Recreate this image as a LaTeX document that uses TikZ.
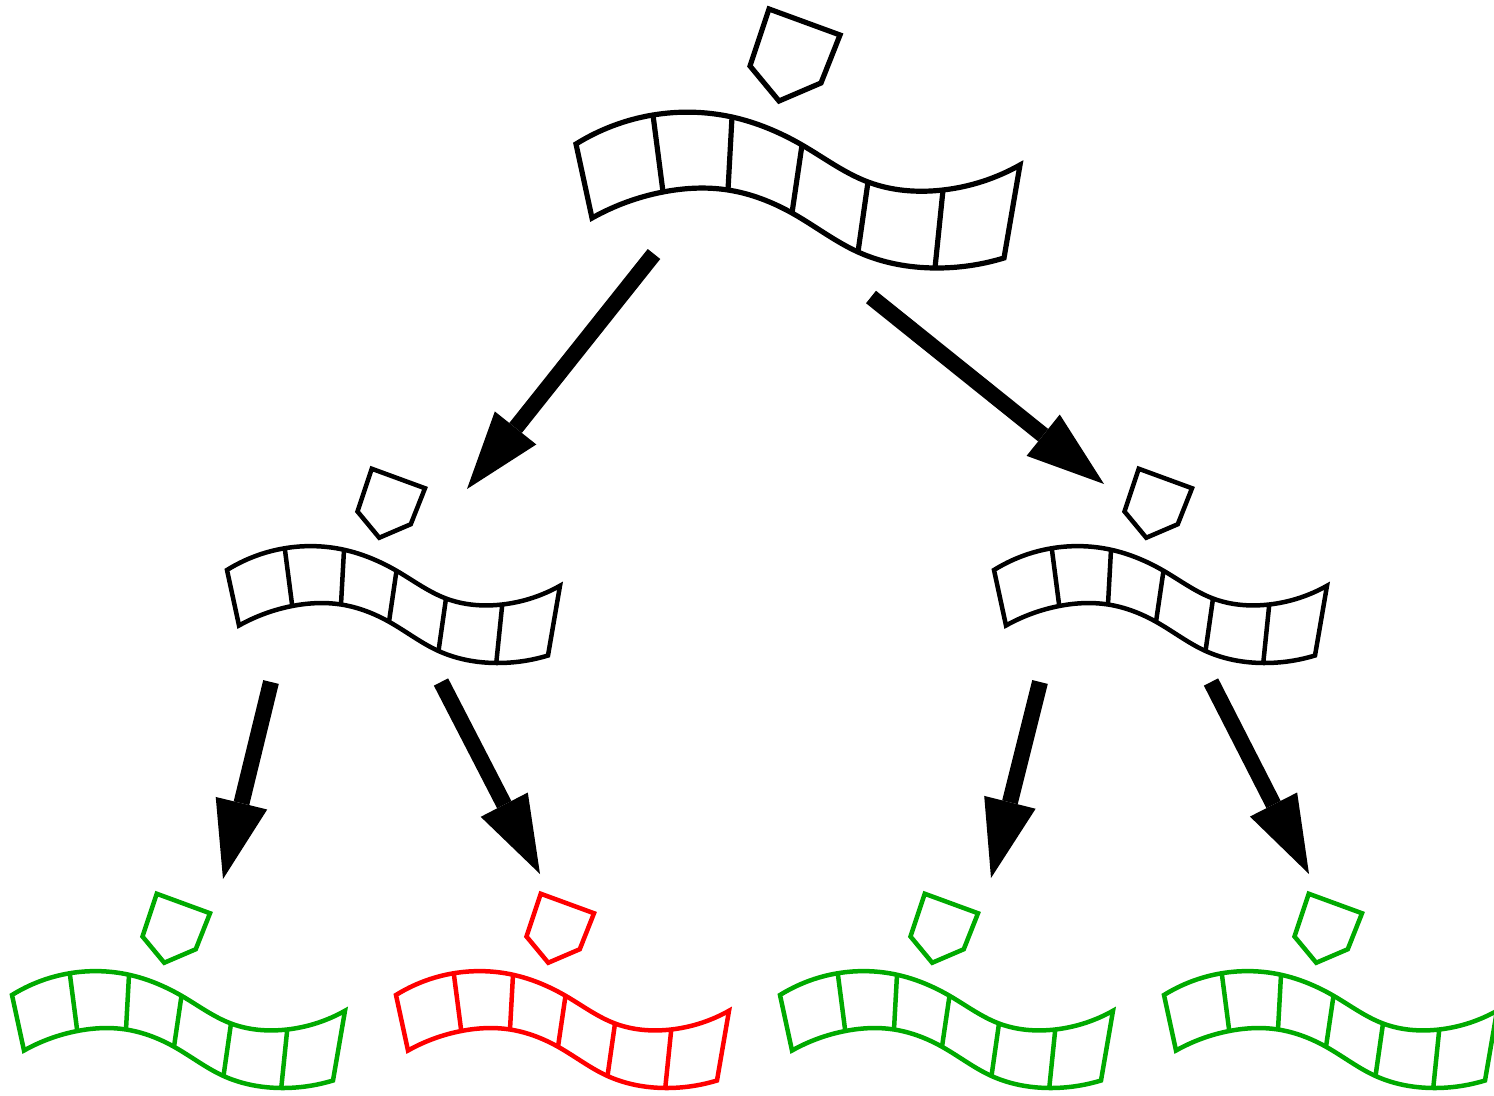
\documentclass[tikz,border=0pt]{standalone}
\usetikzlibrary{arrows.meta,hobby}
\definecolor{sgreen}{RGB}{0,170,0}
\definecolor{sred}{RGB}{255,0,0}
\tikzset{
  x=0.5pt, y=-0.5pt,
  strip/.pic={
    \draw[line join=miter, use Hobby shortcut]
      (0,0) .. (77,-29) .. (156,-27) .. (226,1) .. (292,38) .. (367,46) .. (444,21)
      -- (428,114) .. (359,124) .. (282,108) .. (216,69) .. (152,46) .. (87,48) .. (16,74)
      -- cycle;
    \draw (77,-29) -- (87,48);
    \draw (156,-27) -- (152,46);
    \draw (226,1) -- (216,69);
    \draw (292,38) -- (282,108);
    \draw (367,46) -- (359,124);
    \draw[line join=miter] (193,-135) -- (264,-109) -- (245,-61) -- (203,-43) -- (174,-78) -- cycle;
  },
  small/.style={scale=0.75, line width=2.25pt},
  fatarrow/.style={line width=8pt, -{Triangle[length=39pt,width=26.5pt,line width=0pt]}}
}
\begin{document}
\begin{tikzpicture}
\useasboundingbox (0,0) rectangle (1494,1096);
% strips
\pic[line width=2.6pt] (top) at (576,144) {strip};
\pic[small] (midL) at (227,570) {strip};
\pic[small] (midR) at (994,570) {strip};
\pic[small, color=sgreen] (botA) at (12,995) {strip};
\pic[small, color=sred] (botB) at (396,995) {strip};
\pic[small, color=sgreen] (botC) at (780,995) {strip};
\pic[small, color=sgreen] (botD) at (1164,995) {strip};
% arrow end points
\coordinate (a1s) at (654,254); \coordinate (a1e) at (467,489);
\coordinate (a2s) at (871,297); \coordinate (a2e) at (1104,484);
\coordinate (a3s) at (271,682); \coordinate (a3e) at (223,879);
\coordinate (a4s) at (441,682); \coordinate (a4e) at (540,874);
\coordinate (a5s) at (1040,682); \coordinate (a5e) at (991,878);
\coordinate (a6s) at (1211,682); \coordinate (a6e) at (1309,874);
\draw[fatarrow] (a1s) -- (a1e);
\draw[fatarrow] (a2s) -- (a2e);
\draw[fatarrow] (a3s) -- (a3e);
\draw[fatarrow] (a4s) -- (a4e);
\draw[fatarrow] (a5s) -- (a5e);
\draw[fatarrow] (a6s) -- (a6e);
\end{tikzpicture}
\end{document}
